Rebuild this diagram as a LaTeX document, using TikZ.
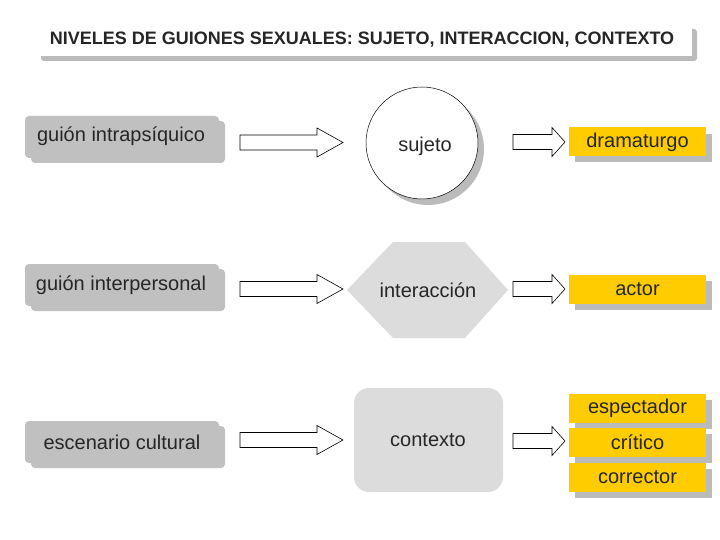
\documentclass[tikz,border=0pt]{standalone}
\usepackage{fontspec}
\setmainfont{Liberation Sans}
\definecolor{gbox}{HTML}{C0C0C0}
\definecolor{shad}{HTML}{BBBBBB}
\definecolor{lgray}{HTML}{DCDCDC}
\definecolor{gold}{HTML}{FFCC00}
\definecolor{ink}{HTML}{262626}
\newcommand\blockarrow[4]{% start x, shaft end x, tip x, y
  \draw[arrowshape] (#1,#4-7.5) -- (#2,#4-7.5) -- (#2,#4-14.5) -- (#3,#4)
    -- (#2,#4+14.5) -- (#2,#4+7.5) -- (#1,#4+7.5) -- cycle;}
\begin{document}
\begin{tikzpicture}[x=1pt,y=-1pt,
  txt/.style={font=\fontsize{20}{23}\selectfont, text=ink, inner sep=0pt},
  leftbox/.style={fill=gbox, rounded corners=4pt},
  goldbox/.style={txt, fill=gold, minimum width=137pt, minimum height=29pt, anchor=center},
  goldshadow/.style={fill=shad},
  arrowshape/.style={draw=black, line width=0.6pt, fill=white, line join=miter}
]
\useasboundingbox (0,0) rectangle (720,540);

% title
\fill[shad, rounded corners=3pt] (41,29) rectangle (697,61);
\fill[white] (36,24) rectangle (692,56);
\node[font=\bfseries\fontsize{18}{21}\selectfont, text=ink, inner sep=0pt] (title) at (362,40)
  {NIVELES DE GUIONES SEXUALES: SUJETO, INTERACCION, CONTEXTO};

% left boxes
\fill[leftbox] (31,121) rectangle (225,163);
\fill[leftbox] (25,116) rectangle (219,158);
\node[txt] (l1) at (121,136) {guión intrapsíquico};

\fill[leftbox] (31,269) rectangle (225,311);
\fill[leftbox] (25,264) rectangle (219,306);
\node[txt] (l2) at (121,285) {guión interpersonal};

\fill[leftbox] (31,426) rectangle (225,468);
\fill[leftbox] (25,421) rectangle (219,463);
\node[txt] (l3) at (122,442) {escenario cultural};

% middle shapes
\fill[shad] (428,149) circle (56);
\node[circle, draw=black, line width=0.5pt, fill=white, minimum size=112pt, inner sep=0pt] (c1) at (422,143) {};
\node[txt] (sujeto) at (425,146) {sujeto};

\fill[lgray] (347,290) -- (393,242) -- (465,242) -- (508,290) -- (465,338) -- (393,338) -- cycle;
\node[txt] (interaccion) at (428,290) {interacción};

\fill[lgray, rounded corners=15pt] (354,388) rectangle (503,492);
\node[txt] (contexto) at (428,440) {contexto};

% right gold boxes
\fill[goldshadow] (575,134) rectangle (712,162);
\node[goldbox] (dram) at (637.5,142) {dramaturgo};
\fill[goldshadow] (575,281) rectangle (712,310);
\node[goldbox] (actor) at (637.5,289.5) {actor};
\fill[goldshadow] (575,400) rectangle (712,429);
\node[goldbox] (esp) at (637.5,408.5) {espectador};
\fill[goldshadow] (575,434) rectangle (712,463);
\node[goldbox] (crit) at (637.5,442.5) {crítico};
\fill[goldshadow] (575,469) rectangle (712,498);
\node[goldbox] (corr) at (637.5,477.5) {corrector};

% block arrows
\blockarrow{240}{317}{343}{142.5}
\blockarrow{513}{552}{565}{142}
\blockarrow{240}{317}{343}{289}
\blockarrow{513}{552}{565}{289}
\blockarrow{240}{317}{343}{440}
\blockarrow{513}{552}{565}{441}
\end{tikzpicture}
\end{document}
